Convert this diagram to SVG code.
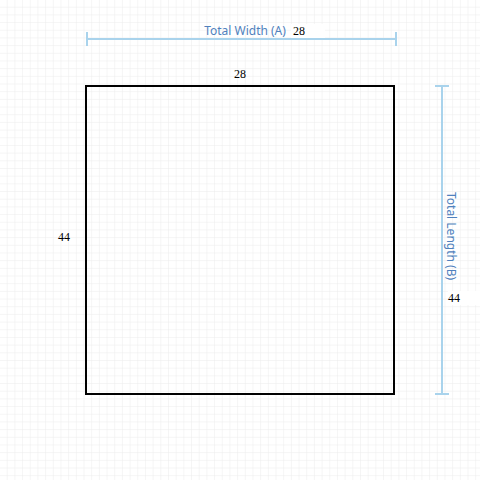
<svg xmlns="http://www.w3.org/2000/svg" width="480" height="480" viewBox="0 0 480 480">
<defs>
<pattern id="grid" x="0" y="0" width="7.68" height="7.68" patternUnits="userSpaceOnUse">
<path d="M7.68 0V7.68M0 7.68H7.68" fill="none" stroke="#ebebeb" stroke-width="1"/>
</pattern>
<style>
.dim{stroke:#a9d3ec;stroke-width:2;fill:none}
.lbl{font-family:"Noto Sans","Open Sans",sans-serif;font-size:12px;fill:#4f81bd}
.num{font-family:"Liberation Serif","Times New Roman",serif;font-size:12px;fill:#000}
.bg{fill:#fff}
</style>
</defs>
<rect width="480" height="480" fill="#fff"/>
<rect width="480" height="480" fill="url(#grid)"/>
<g id="connectors">
<path class="dim" d="M86 39H396M87 32V46M396 32V46"/>
<path class="dim" d="M442 86V394M435 86H449M435 394H449"/>
</g>
<g id="box">
<rect x="86" y="86" width="308" height="308" fill="none" stroke="#000" stroke-width="2"/>
<text class="num" x="240" y="78" text-anchor="middle">28</text>
<text class="num" x="64" y="241" text-anchor="middle">44</text>
</g>
<g id="width-label">
<text class="lbl" x="245" y="35" text-anchor="middle">Total Width (A)</text>
<rect class="bg" x="291" y="24" width="34" height="14"/>
<text class="num" x="299" y="35" text-anchor="middle">28</text>
</g>
<g id="length-label">
<text class="lbl" transform="translate(447 236) rotate(90)" text-anchor="middle">Total Length (B)</text>
<rect class="bg" x="448" y="291" width="32" height="14"/>
<text class="num" x="454" y="302" text-anchor="middle">44</text>
</g>
</svg>
